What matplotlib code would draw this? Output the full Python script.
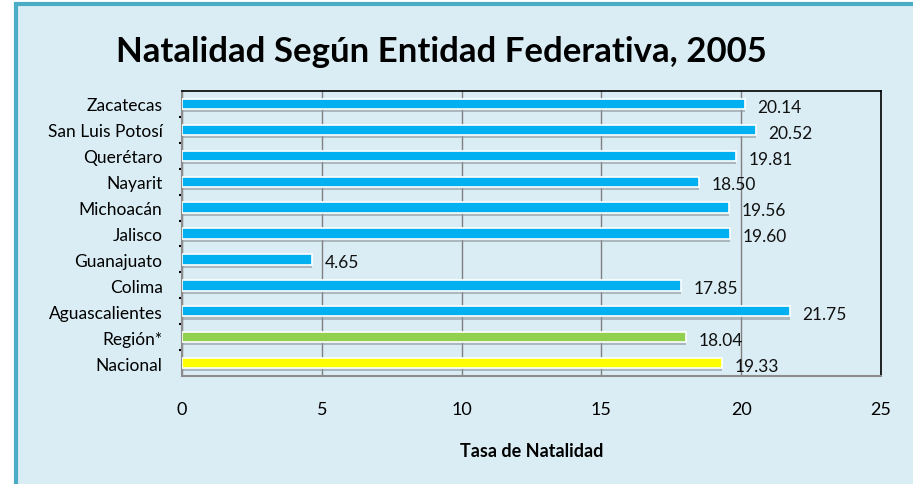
import matplotlib
matplotlib.use("Agg")
import matplotlib.pyplot as plt
from matplotlib.patches import Rectangle

plt.rcParams['font.family'] = ['Lato', 'DejaVu Sans']

# data, bottom to top
entidades = ['Nacional', 'Región*', 'Aguascalientes', 'Colima', 'Guanajuato',
             'Jalisco', 'Michoacán', 'Nayarit', 'Querétaro', 'San Luis Potosí',
             'Zacatecas']
tasas = [19.33, 18.04, 21.75, 17.85, 4.65, 19.60, 19.56, 18.50, 19.81, 20.52, 20.14]
colores = ['#FFFF00', '#92D050'] + ['#00B0F0'] * 9
x_ticks = [0, 5, 10, 15, 20, 25]

BG = '#DAEDF4'

fig = plt.figure(figsize=(9.13, 4.85), dpi=100)
fig.patch.set_facecolor('white')

# outer frame
frame = Rectangle((16 / 913, -0.05), 1.0, 1 - 5 / 485 + 0.05, transform=fig.transFigure,
                  facecolor=BG, edgecolor='#4BACC6', linewidth=3, zorder=-5)
fig.patches.append(frame)

ax = fig.add_axes([182 / 913, 108 / 485, (881 - 182) / 913, (393 - 108) / 485])
ax.set_zorder(2)
ax.set_facecolor(BG)

pos = list(range(len(entidades)))
# shadow under each bar
ax.barh([p - 0.14 for p in pos], tasas, height=0.36, color='#8c979c', alpha=0.6,
        linewidth=0, zorder=2)
ax.barh(pos, tasas, height=0.40, color=colores, edgecolor='white', linewidth=1.2, zorder=3)

for p, v in zip(pos, tasas):
    ax.annotate(f'{v:.2f}', (v, p), xytext=(9, -2), textcoords='offset points',
                ha='left', va='center', fontsize=12.5, color='#111111')

ax.set_xlim(0, 25)
ax.set_ylim(-0.5, len(entidades) - 0.5)
ax.set_xticks(x_ticks)
ax.set_xticklabels([str(t) for t in x_ticks], fontsize=13)
ax.set_yticks(pos)
ax.set_yticklabels(entidades, fontsize=12.5)
ax.set_yticks([p + 0.5 for p in pos[:-1]], minor=True)
ax.tick_params(axis='x', length=0, pad=18)
ax.tick_params(axis='y', which='major', length=0, pad=14)
ax.tick_params(axis='y', which='minor', length=2, width=1.5, color='black')

ax.grid(axis='x', color='#7f7f7f', linewidth=1, zorder=1)
ax.set_axisbelow(True)
for s in ['top', 'right']:
    ax.spines[s].set_color('black')
    ax.spines[s].set_linewidth(1.2)
for s in ['left', 'bottom']:
    ax.spines[s].set_color('#8c8c8c')
    ax.spines[s].set_linewidth(1.5)

ax.set_xlabel('Tasa de Natalidad', fontsize=13, fontweight='bold', labelpad=18)

fig.text(441 / 913, 1 - 52 / 485, 'Natalidad Según Entidad Federativa, 2005',
         ha='center', va='center', fontsize=25, fontweight='bold')

fig.savefig('out.png', dpi=100, facecolor=fig.get_facecolor())
